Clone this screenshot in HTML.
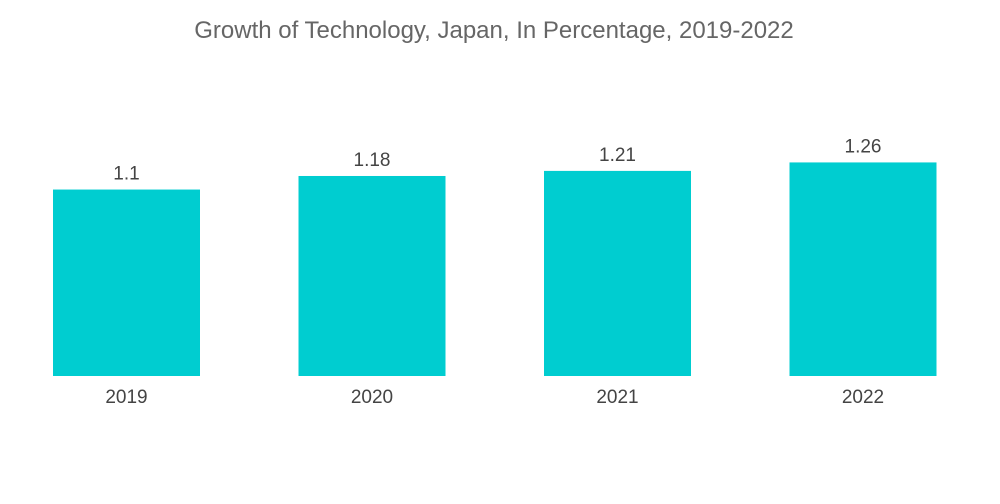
<!DOCTYPE html>
<html><head><meta charset="utf-8"><style>
body{margin:0;background:#fff;}
svg{display:block;font-family:"Liberation Sans",sans-serif;}
</style></head><body>
<svg id="chart" width="1000" height="504">
<text x="494" y="38" text-anchor="middle" font-size="24" fill="#666">Growth of Technology, Japan, In Percentage, 2019-2022</text>
<g id="bars"></g>
</svg>
<script>
const categories=["2019","2020","2021","2022"];
const values=[1.1,1.18,1.21,1.26];
const valueLabels=["1.1","1.18","1.21","1.26"];
const baseY=376, pxPerUnit=169.5, x0=53, step=245.5, bw=147;
function yScale(v){return baseY-v*pxPerUnit;}
function xScale(i){return x0+i*step;}
const g=document.getElementById('bars');
const ns='http://www.w3.org/2000/svg';
categories.forEach((c,i)=>{
  const r=document.createElementNS(ns,'rect');
  r.setAttribute('x',xScale(i));r.setAttribute('y',yScale(values[i]));
  r.setAttribute('width',bw);r.setAttribute('height',baseY-yScale(values[i]));
  r.setAttribute('fill','#00cdd0');
  
  
  g.appendChild(r);
  const t=document.createElementNS(ns,'text');
  t.setAttribute('x',xScale(i)+bw/2);t.setAttribute('y',yScale(values[i])-10);
  t.setAttribute('text-anchor','middle');t.setAttribute('font-size','19');t.setAttribute('fill','#444');
  t.textContent=valueLabels[i];
  
  
  g.appendChild(t);
  const l=document.createElementNS(ns,'text');
  l.setAttribute('x',xScale(i)+bw/2);l.setAttribute('y',403);
  l.setAttribute('text-anchor','middle');l.setAttribute('font-size','19');l.setAttribute('fill','#444');
  l.textContent=c;
  
  
  g.appendChild(l);
});
</script>
</body></html>
